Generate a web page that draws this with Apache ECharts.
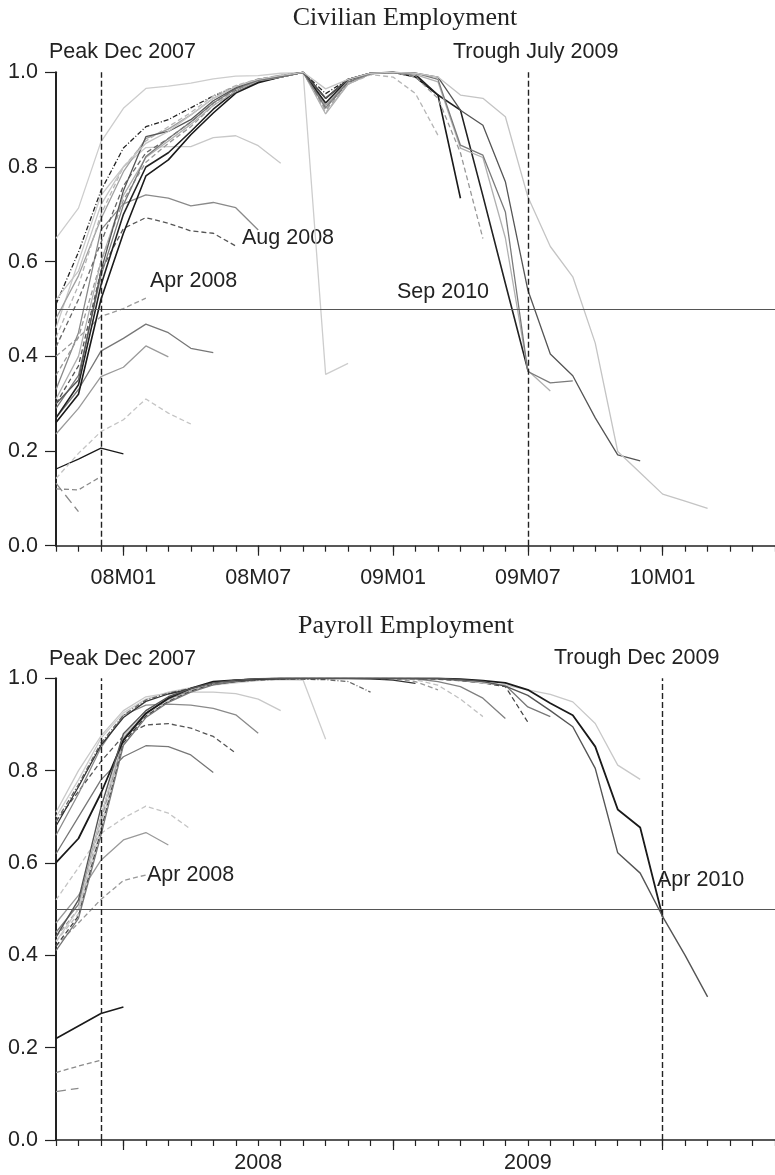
<!DOCTYPE html>
<html>
<head>
<meta charset="utf-8">
<script src="https://cdn.jsdelivr.net/npm/echarts@6/dist/echarts.min.js"></script>
<style>
  html, body { margin: 0; padding: 0; background: #fff; }
  #chart { width: 775px; height: 1175px; }
</style>
</head>
<body>
<div id="chart"></div>
<script>
// Monthly axis shared by both panels (2007M10 .. 2010M06)
const months = ['07M10','07M11','07M12',
  '08M01','08M02','08M03','08M04','08M05','08M06','08M07','08M08','08M09','08M10','08M11','08M12',
  '09M01','09M02','09M03','09M04','09M05','09M06','09M07','09M08','09M09','09M10','09M11','09M12',
  '10M01','10M02','10M03','10M04','10M05','10M06'];

// Tick labels
const civTickLabels = ['08M01','08M07','09M01','09M07','10M01'];
const payMajorTicks = ['08M01','09M01','10M01'];
const payLabelMonths = ['08M07','09M07'];
const payLabelText = ['2008','2009'];

// Reference dates (vertical dashed lines)
const civPeak = '07M12', civTrough = '09M07';
const payPeak = '07M12', payTrough = '10M01';
const threshold = 0.5;

// Civilian employment: one line per data vintage
const civ01 = [0.132, 0.072];
const civ02 = [0.12, 0.118, 0.146];
const civ03 = [0.162, 0.183, 0.206, 0.194];
const civ04 = [0.40, 0.44, 0.484, 0.501, 0.523];
const civ05 = [0.236, 0.29, 0.357, 0.377, 0.422, 0.399];
const civ06 = [0.142, 0.195, 0.241, 0.266, 0.31, 0.28, 0.257];
const civ07 = [0.27, 0.33, 0.411, 0.438, 0.468, 0.45, 0.417, 0.408];
const civ08 = [0.30, 0.38, 0.58, 0.67, 0.693, 0.681, 0.665, 0.66, 0.633];
const civ09 = [0.33, 0.45, 0.667, 0.722, 0.741, 0.734, 0.718, 0.725, 0.714, 0.667];
const civ10 = [0.46, 0.60, 0.74, 0.80, 0.841, 0.843, 0.843, 0.862, 0.866, 0.845, 0.808];
const civ11 = [0.649, 0.713, 0.853, 0.924, 0.966, 0.971, 0.977, 0.986, 0.992, 0.993, 0.998, 0.999, 0.362, 0.385];
const civ12 = [0.51, 0.62, 0.75, 0.84, 0.885, 0.90, 0.925, 0.95, 0.97, 0.985, 0.993, 1.0, 0.955, 0.985, 0.997, 1.0, 0.998];
const civ13 = [0.48, 0.57, 0.69, 0.79, 0.86, 0.88, 0.91, 0.945, 0.97, 0.985, 0.993, 1.0, 0.93, 0.98, 0.996];
const civ14 = [0.42, 0.52, 0.64, 0.76, 0.83, 0.86, 0.895, 0.935, 0.965, 0.983, 0.992, 1.0, 0.925, 0.978, 0.997, 1.0];
const civ15 = [0.44, 0.55, 0.70, 0.80, 0.855, 0.885, 0.915, 0.95, 0.972, 0.986, 0.994, 1.0, 0.915, 0.975, 0.995, 0.99, 0.955, 0.867];
const civ16 = [0.26, 0.32, 0.52, 0.66, 0.781, 0.815, 0.868, 0.914, 0.956, 0.978, 0.99, 1.0, 0.945, 0.985, 0.998, 1.0, 0.99, 0.952, 0.734];
const civ17 = [0.36, 0.44, 0.60, 0.73, 0.81, 0.85, 0.885, 0.93, 0.962, 0.982, 0.991, 1.0, 0.92, 0.975, 0.997, 1.0, 0.99, 0.945, 0.83, 0.649];
const civ18 = [0.27, 0.34, 0.55, 0.70, 0.80, 0.83, 0.875, 0.922, 0.96, 0.98, 0.99, 1.0, 0.935, 0.985, 0.998, 1.0, 0.995, 0.952, 0.92, 0.739, 0.554, 0.371];
const civ19 = [0.31, 0.40, 0.60, 0.74, 0.82, 0.855, 0.89, 0.93, 0.96, 0.982, 0.99, 1.0, 0.912, 0.975, 0.997, 1.0, 0.995, 0.98, 0.84, 0.82, 0.65, 0.37, 0.327];
const civ20 = [0.29, 0.36, 0.57, 0.72, 0.822, 0.86, 0.895, 0.935, 0.965, 0.983, 0.99, 1.0, 0.925, 0.98, 0.997, 1.0, 0.998, 0.985, 0.846, 0.825, 0.705, 0.368, 0.344, 0.348];
const civ21 = [0.30, 0.35, 0.58, 0.75, 0.864, 0.875, 0.90, 0.94, 0.967, 0.985, 0.992, 1.0, 0.945, 0.985, 0.998, 1.0, 0.998, 0.99, 0.92, 0.888, 0.769, 0.54, 0.405, 0.359, 0.27, 0.192, 0.179];
const civ22 = [0.52, 0.58, 0.72, 0.80, 0.85, 0.875, 0.91, 0.945, 0.97, 0.985, 0.993, 1.0, 0.965, 0.985, 0.998, 1.0, 0.998, 0.99, 0.952, 0.945, 0.906, 0.737, 0.632, 0.568, 0.428, 0.199, 0.154, 0.109, 0.094, 0.079];

// Payroll employment: one line per data vintage
const pay01 = [0.105, 0.112];
const pay02 = [0.146, 0.16, 0.173];
const pay03 = [0.22, 0.247, 0.274, 0.288];
const pay04 = [0.42, 0.47, 0.521, 0.562, 0.574];
const pay05 = [0.47, 0.53, 0.606, 0.65, 0.666, 0.639];
const pay06 = [0.52, 0.59, 0.664, 0.697, 0.723, 0.708, 0.673];
const pay07 = [0.62, 0.70, 0.78, 0.83, 0.854, 0.852, 0.834, 0.796];
const pay08 = [0.69, 0.755, 0.82, 0.875, 0.899, 0.902, 0.892, 0.874, 0.838];
const pay09 = [0.66, 0.75, 0.85, 0.92, 0.942, 0.944, 0.942, 0.935, 0.921, 0.881];
const pay10 = [0.71, 0.80, 0.875, 0.93, 0.96, 0.968, 0.97, 0.97, 0.967, 0.955, 0.93];
const pay11 = [0.70, 0.78, 0.87, 0.925, 0.955, 0.97, 0.98, 0.985, 0.99, 0.995, 0.997, 0.996, 0.868];
const pay12 = [0.69, 0.77, 0.86, 0.92, 0.953, 0.968, 0.978, 0.987, 0.993, 0.996, 0.998, 0.998, 0.997, 0.993, 0.97];
const pay13 = [0.68, 0.765, 0.855, 0.915, 0.95, 0.966, 0.977, 0.987, 0.993, 0.997, 0.999, 1.0, 1.0, 1.0, 0.999, 0.996, 0.989];
const pay14 = [0.44, 0.50, 0.69, 0.87, 0.925, 0.955, 0.975, 0.988, 0.995, 0.998, 1.0, 1.0, 1.0, 1.0, 1.0, 0.999, 0.993, 0.975];
const pay15 = [0.43, 0.49, 0.68, 0.865, 0.92, 0.95, 0.972, 0.987, 0.995, 0.998, 1.0, 1.0, 1.0, 1.0, 1.0, 1.0, 0.997, 0.985, 0.955, 0.917];
const pay16 = [0.45, 0.51, 0.70, 0.87, 0.925, 0.955, 0.975, 0.99, 0.996, 0.999, 1.0, 1.0, 1.0, 1.0, 1.0, 1.0, 0.999, 0.993, 0.982, 0.957, 0.913];
const pay17 = [0.42, 0.485, 0.67, 0.86, 0.918, 0.95, 0.972, 0.988, 0.995, 0.999, 1.0, 1.0, 1.0, 1.0, 1.0, 1.0, 1.0, 0.998, 0.995, 0.99, 0.982, 0.905];
const pay18 = [0.41, 0.48, 0.66, 0.855, 0.915, 0.948, 0.97, 0.986, 0.994, 0.998, 1.0, 1.0, 1.0, 1.0, 1.0, 1.0, 1.0, 0.999, 0.995, 0.99, 0.985, 0.938, 0.917];
const pay19 = [0.43, 0.50, 0.70, 0.875, 0.93, 0.958, 0.976, 0.99, 0.996, 0.999, 1.0, 1.0, 1.0, 1.0, 1.0, 1.0, 1.0, 1.0, 0.997, 0.99, 0.985, 0.975, 0.965, 0.949, 0.902, 0.812, 0.781];
const pay20 = [0.601, 0.653, 0.751, 0.866, 0.924, 0.957, 0.978, 0.993, 0.996, 0.998, 1.0, 1.0, 1.0, 1.0, 1.0, 1.0, 1.0, 1.0, 0.998, 0.995, 0.99, 0.975, 0.946, 0.92, 0.852, 0.716, 0.677, 0.483];
const pay21 = [0.44, 0.52, 0.72, 0.88, 0.93, 0.96, 0.978, 0.99, 0.996, 0.999, 1.0, 1.0, 1.0, 1.0, 1.0, 1.0, 1.0, 1.0, 0.997, 0.993, 0.983, 0.963, 0.93, 0.895, 0.805, 0.622, 0.578, 0.484, 0.40, 0.31];

const civLines = [civ01, civ02, civ03, civ04, civ05, civ06, civ07, civ08, civ09, civ10, civ11,
                  civ12, civ13, civ14, civ15, civ16, civ17, civ18, civ19, civ20, civ21, civ22];
const payLines = [pay01, pay02, pay03, pay04, pay05, pay06, pay07, pay08, pay09, pay10, pay11,
                  pay12, pay13, pay14, pay15, pay16, pay17, pay18, pay19, pay20, pay21];

// Line appearance (grey shades and dash patterns)
const DASH = [5, 3], LONGDASH = [10, 5], DASHDOT = [5, 2, 1, 2];
const civStyles = [
  {c:'#8a8a8a', t:LONGDASH}, {c:'#8a8a8a', t:DASH}, {c:'#1a1a1a'}, {c:'#9a9a9a', t:DASH},
  {c:'#9a9a9a'}, {c:'#c4c4c4', t:DASH}, {c:'#777'}, {c:'#555', t:DASH}, {c:'#8a8a8a'},
  {c:'#c8c8c8'}, {c:'#cdcdcd'}, {c:'#222', t:DASHDOT}, {c:'#a0a0a0'}, {c:'#666', t:DASH},
  {c:'#b5b5b5', t:DASH}, {c:'#1a1a1a', w:1.6}, {c:'#999', t:DASH}, {c:'#222', w:1.6},
  {c:'#b0b0b0'}, {c:'#7a7a7a'}, {c:'#555'}, {c:'#c4c4c4'}
];
const payStyles = [
  {c:'#8a8a8a', t:LONGDASH}, {c:'#8a8a8a', t:DASH}, {c:'#1a1a1a', w:1.6}, {c:'#999', t:DASH},
  {c:'#9a9a9a'}, {c:'#c4c4c4', t:DASH}, {c:'#777'}, {c:'#555', t:DASH}, {c:'#8a8a8a'},
  {c:'#c8c8c8'}, {c:'#cdcdcd'}, {c:'#666', t:DASHDOT}, {c:'#333'}, {c:'#9a9a9a', t:DASH},
  {c:'#c0c0c0', t:DASH}, {c:'#808080'}, {c:'#444', t:DASH}, {c:'#777'}, {c:'#c8c8c8'},
  {c:'#1a1a1a', w:1.8}, {c:'#555', w:1.4}
];

const SANS = '"Liberation Sans", Arial, sans-serif';
const SERIF = '"Liberation Serif", "Times New Roman", serif';
const INK = '#222';

function vintageSeries(data, st, axisIndex) {
  return {
    type: 'line', xAxisIndex: axisIndex * 2, yAxisIndex: axisIndex,
    data: data, symbol: 'none', showSymbol: false, silent: true,
    lineStyle: { color: st.c, width: st.w || 1.3, type: st.t || 'solid' },
    animation: false
  };
}

function refLines(peak, trough) {
  const dashed = { color: INK, width: 1.4, type: [6, 3] };
  return {
    silent: true, symbol: ['none', 'none'], label: { show: false }, animation: false,
    data: [
      { yAxis: threshold, lineStyle: { color: '#555', width: 1.2, type: 'solid' } },
      [{ coord: [peak, 0], lineStyle: dashed }, { coord: [peak, 1] }],
      [{ coord: [trough, 0], lineStyle: dashed }, { coord: [trough, 1] }]
    ]
  };
}

const civSeries = civLines.map((d, i) => vintageSeries(d, civStyles[i], 0));
const paySeries = payLines.map((d, i) => vintageSeries(d, payStyles[i], 1));
civSeries[0].markLine = refLines(civPeak, civTrough);
paySeries[0].markLine = refLines(payPeak, payTrough);

const grids = [
  { left: 56, top: 72.3, width: 720.6, height: 473.4 },
  { left: 56, top: 678.3, width: 720.6, height: 461.7 }
];

function minorAxis(gi) {
  return {
    type: 'category', gridIndex: gi, position: 'bottom', data: months, boundaryGap: false,
    axisLine: { show: true, lineStyle: { color: INK, width: 1.5 } },
    axisTick: { show: true, interval: 0, length: 6, lineStyle: { color: INK, width: 1.2 } },
    axisLabel: { show: false }, splitLine: { show: false }
  };
}

const xAxes = [
  minorAxis(0),
  {
    type: 'category', gridIndex: 0, position: 'bottom', data: months, boundaryGap: false,
    axisLine: { show: false },
    axisTick: { show: true, length: 10, lineStyle: { color: INK, width: 1.2 },
      interval: (idx, v) => civTickLabels.includes(v) },
    axisLabel: { show: true, margin: 21, fontSize: 21.5, fontFamily: SANS, color: INK,
      interval: (idx, v) => civTickLabels.includes(v) },
    splitLine: { show: false }
  },
  minorAxis(1),
  {
    type: 'category', gridIndex: 1, position: 'bottom', data: months, boundaryGap: false,
    axisLine: { show: false },
    axisTick: { show: true, length: 10, lineStyle: { color: INK, width: 1.2 },
      interval: (idx, v) => payMajorTicks.includes(v) },
    axisLabel: { show: true, margin: 12, fontSize: 21.5, fontFamily: SANS, color: INK,
      interval: (idx, v) => payLabelMonths.includes(v),
      formatter: v => { const k = payLabelMonths.indexOf(v); return k >= 0 ? payLabelText[k] : ''; } },
    splitLine: { show: false }
  }
];

function yAxis(gi) {
  return {
    type: 'value', gridIndex: gi, min: 0, max: 1, interval: 0.2,
    axisLine: { show: true, lineStyle: { color: INK, width: 2 } },
    axisTick: { show: true, length: 11, lineStyle: { color: INK, width: 1.2 } },
    axisLabel: { margin: 18, fontSize: 21.5, fontFamily: SANS, color: INK,
      formatter: v => v.toFixed(1) },
    splitLine: { show: false }
  };
}

function txt(text, x, y, opts) {
  return {
    type: 'text', x: x, y: y, silent: true,
    style: Object.assign({ text: text, fill: INK, font: '21.5px ' + SANS,
      align: 'left', verticalAlign: 'middle' }, opts || {})
  };
}

const graphics = [
  txt('Civilian Employment', 405, 18, { font: '26px ' + SERIF, align: 'center' }),
  txt('Payroll Employment', 406, 626, { font: '26px ' + SERIF, align: 'center' }),
  txt('Peak Dec 2007', 49, 52),
  txt('Trough July 2009', 453, 52),
  txt('Aug 2008', 242, 238),
  txt('Apr 2008', 150, 281),
  txt('Sep 2010', 397, 292),
  txt('Peak Dec 2007', 49, 659),
  txt('Trough Dec 2009', 554, 658),
  txt('Apr 2008', 147, 875),
  txt('Apr 2010', 657, 880)
];

const chart = echarts.init(document.getElementById('chart'), null, { renderer: 'canvas' });
chart.setOption({
  backgroundColor: '#fff',
  animation: false,
  grid: grids,
  xAxis: xAxes,
  yAxis: [yAxis(0), yAxis(1)],
  series: civSeries.concat(paySeries),
  graphic: graphics
});
</script>
</body>
</html>
